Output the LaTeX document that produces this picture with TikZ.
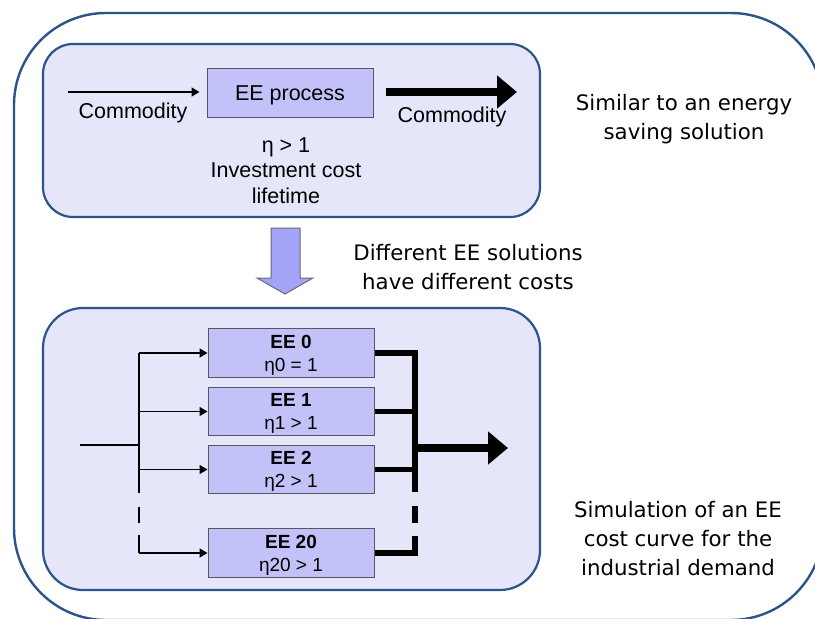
\documentclass[tikz,border=0pt]{standalone}
\usepackage{fontspec}
\setmainfont{Liberation Sans}
\newfontfamily\dvfont{DejaVu Sans}
\usetikzlibrary{arrows.meta}
\definecolor{framecol}{RGB}{44,84,138}
\definecolor{panelfill}{RGB}{230,230,251}
\definecolor{boxfill}{RGB}{194,194,249}
\definecolor{boxline}{RGB}{85,85,100}
\definecolor{downfill}{RGB}{163,163,247}
\definecolor{downline}{RGB}{105,105,115}
\tikzset{
  frame/.style={draw=framecol, line width=2.4pt},
  panel/.style={draw=framecol, line width=2.2pt, fill=panelfill},
  procbox/.style={draw=boxline, line width=1pt, fill=boxfill, minimum width=166pt, minimum height=49pt, inner sep=0pt, text height=15.4pt, text depth=0pt, font=\fontsize{21.5}{25}\selectfont},
  eebox/.style={draw=boxline, line width=1pt, fill=boxfill, minimum width=166pt, minimum height=48.5pt, inner sep=0pt},
  eetxt/.style={anchor=base, inner sep=0pt, font=\fontsize{19}{23}\selectfont},
  lbl/.style={anchor=base, inner sep=0pt, font=\fontsize{21.5}{25}\selectfont},
  note/.style={anchor=base, inner sep=0pt, font=\dvfont\fontsize{21.3}{25}\selectfont},
  thinarrow/.style={line width=1.5pt, -{Triangle[length=8pt,width=9pt]}},
  thinline/.style={line width=1.5pt},
  fatline/.style={line width=5.5pt, line join=miter},
  fatarrow/.style={line width=7.5pt, -{Triangle[length=20pt,width=32pt]}}
}
\begin{document}
\begin{tikzpicture}[x=1pt,y=-1pt]
\useasboundingbox (0,0) rectangle (815,619);
\clip (0,0) rectangle (815,619);
% outer frame (its right edge lies beyond the picture)
\draw[frame] (823,105) arc[start angle=0, end angle=-90, radius=92]
  -- (106,13) arc[start angle=270, end angle=180, radius=92]
  -- (14,528) arc[start angle=180, end angle=90, radius=92]
  -- (731,620) arc[start angle=90, end angle=0, radius=92];
% panels
\draw[panel, rounded corners=30pt] (43,44) rectangle (540,217);
\draw[panel, rounded corners=40pt] (43,308) rectangle (540,590);

% ---- upper panel
\node[procbox] (proc) at (290,92.5) {EE process};
\coordinate (inA) at (68,92);
\draw[thinarrow, shorten >=7pt] (inA) -- (inA -| proc.west);
\node[lbl] (c1) at (133,118) {Commodity};
\coordinate (outS) at (386,92);
\coordinate (outE) at (517,92);
\draw[fatarrow] (outS) -- (outE);
\node[lbl] (c2) at (452,122) {Commodity};
\node[lbl] (eta) at (286,152) {η > 1};
\node[lbl] (inv) at (286,177) {Investment cost};
\node[lbl] (life) at (286,203) {lifetime};

% ---- notes
\node[note] (n1a) at (684,110) {Similar to an energy};
\node[note] (n1b) at (684,139) {saving solution};
\node[note] (n2a) at (468,260) {Different EE solutions};
\node[note] (n2b) at (468,289) {have different costs};
\node[note] (n3a) at (678,517) {Simulation of an EE};
\node[note] (n3b) at (678,546) {cost curve for the};
\node[note] (n3c) at (678,575) {industrial demand};

% ---- down arrow
\draw[fill=downfill, draw=downline, line width=1pt, line join=miter]
  (271,228) -- (300,228) -- (300,278) -- (313,278) -- (285,294) -- (257,278) -- (271,278) -- cycle;

% ---- lower panel
\node[eebox] (ee0) at (291,353) {};
\node[eebox] (ee1) at (291,411.5) {};
\node[eebox] (ee2) at (291,469.5) {};
\node[eebox] (ee20) at (291,553) {};
\path (ee0.north) ++(0,20) node[eetxt] {\bfseries EE 0} ++(0,23) node[eetxt] {η0 = 1};
\path (ee1.north) ++(0,20) node[eetxt] {\bfseries EE 1} ++(0,23) node[eetxt] {η1 > 1};
\path (ee2.north) ++(0,20) node[eetxt] {\bfseries EE 2} ++(0,23) node[eetxt] {η2 > 1};
\path (ee20.north) ++(0,20) node[eetxt] {\bfseries EE 20} ++(0,23) node[eetxt] {η20 > 1};

% input bus
\coordinate (inL) at (80,445);
\coordinate (inB) at (139,445);
\coordinate (busTop) at (ee0.west -| inB);
\coordinate (busS1) at (139,493);
\coordinate (busD1) at (139,507);
\coordinate (busD2) at (139,523);
\coordinate (busS2) at (139,535);
\coordinate (busBot) at (ee20.west -| inB);
\draw[thinline] (inL) -- (inB);
\draw[thinline] (busTop) -- (busS1);
\draw[thinline] (busD1) -- (busD2);
\draw[thinline] (busS2) -- (busBot);
\draw[thinarrow] (busTop) -- (ee0.west);
\draw[thinarrow] (ee1.west -| inB) -- (ee1.west);
\draw[thinarrow] (ee2.west -| inB) -- (ee2.west);
\draw[thinarrow] (busBot) -- (ee20.west);

% output bus
\coordinate (oB) at (415,448);
\coordinate (oS1) at (415,492);
\coordinate (oD1) at (415,506);
\coordinate (oD2) at (415,523);
\coordinate (oS2) at (415,536);
\draw[fatline] (ee0.east) -- (ee0.east -| oB) -- (oS1);
\draw[fatline] (oD1) -- (oD2);
\draw[fatline] (oS2) -- (ee20.east -| oB) -- (ee20.east);
\draw[fatline] (ee1.east) -- (ee1.east -| oB);
\draw[fatline] (ee2.east) -- (ee2.east -| oB);
\coordinate (oE) at (508,448);
\draw[fatarrow] (oB) -- (oE);
\end{tikzpicture}
\end{document}
